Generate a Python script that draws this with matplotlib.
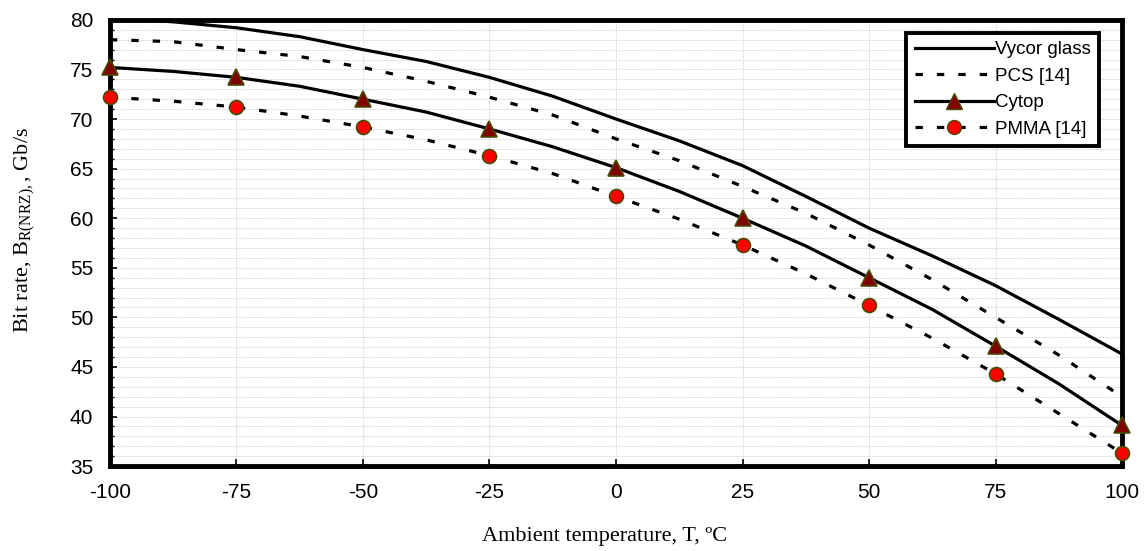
import matplotlib
matplotlib.use("Agg")
import matplotlib.pyplot as plt
from matplotlib.ticker import MultipleLocator

plt.rcParams['mathtext.fontset'] = 'custom'
plt.rcParams['mathtext.rm'] = 'Liberation Serif'

temp_line = [-100, -87.5, -75, -62.5, -50, -37.5, -25, -12.5, 0, 12.5, 25, 37.5, 50, 62.5, 75, 87.5, 100]
vycor = [80.2, 79.8, 79.2, 78.3, 77.0, 75.8, 74.2, 72.3, 70.0, 67.8, 65.3, 62.2, 59.0, 56.2, 53.2, 49.8, 46.3]
pcs = [78.0, 77.8, 77.0, 76.3, 75.2, 73.8, 72.2, 70.4, 68.0, 65.8, 63.2, 60.5, 57.3, 53.8, 50.0, 46.2, 42.0]
cytop_line = [75.2, 74.8, 74.2, 73.3, 72.0, 70.7, 69.0, 67.2, 65.1, 62.7, 60.0, 57.2, 54.0, 50.8, 47.1, 43.3, 39.1]
pmma_line = [72.2, 71.8, 71.2, 70.3, 69.2, 67.9, 66.3, 64.5, 62.2, 59.9, 57.3, 54.4, 51.2, 47.9, 44.3, 40.3, 36.3]

temp_pts = [-100, -75, -50, -25, 0, 25, 50, 75, 100]
cytop_pts = [75.2, 74.2, 72.0, 69.0, 65.1, 60.0, 54.0, 47.1, 39.1]
pmma_pts = [72.2, 71.2, 69.2, 66.3, 62.2, 57.3, 51.2, 44.3, 36.3]

xticks = [-100, -75, -50, -25, 0, 25, 50, 75, 100]

fig = plt.figure(figsize=(11.45, 5.51), dpi=100)
ax = fig.add_axes([0.096, 0.154, 0.884, 0.81])

lw = 2.3
dash = (0, (2.3, 4.4))
edge = '#4a4a00'
ax.plot(temp_line, vycor, color='black', lw=lw, zorder=3)
ax.plot(temp_line, pcs, color='black', lw=lw, linestyle=dash, zorder=3)
ax.plot(temp_line, cytop_line, color='black', lw=lw, zorder=3)
ax.plot(temp_line, pmma_line, color='black', lw=lw, linestyle=dash, zorder=3)
ax.plot(temp_pts, cytop_pts, linestyle='none', marker='^', ms=11, mfc='#800000', mec=edge, mew=1.2, zorder=5, clip_on=False)
ax.plot(temp_pts, pmma_pts, linestyle='none', marker='o', ms=10, mfc='#ff0000', mec=edge, mew=1.2, zorder=5, clip_on=False)

# legend proxies
h1, = ax.plot([], [], color='black', lw=lw)
h2, = ax.plot([], [], color='black', lw=lw, linestyle=dash)
h3, = ax.plot([], [], color='black', lw=lw, marker='^', ms=11, mfc='#800000', mec=edge)
h4, = ax.plot([], [], color='black', lw=lw, linestyle=dash, marker='o', ms=10, mfc='#ff0000', mec=edge)
leg = ax.legend([h1, h2, h3, h4], ['Vycor glass', 'PCS [14]', 'Cytop', 'PMMA [14]'],
                loc='upper right', bbox_to_anchor=(0.977, 0.971), fancybox=False,
                framealpha=1, edgecolor='black', prop={'family': 'Liberation Sans', 'size': 13.5},
                handlelength=4.2, handletextpad=0.05, labelspacing=0.5, borderpad=0.45,
                borderaxespad=0.0)
leg.get_frame().set_linewidth(2.8)

ax.set_xlim(-100, 100)
ax.set_ylim(35, 80)
ax.set_xticks(xticks)
ax.set_xticklabels([str(t) for t in xticks])
ax.yaxis.set_major_locator(MultipleLocator(5))
ax.yaxis.set_minor_locator(MultipleLocator(1))
ax.grid(which='major', axis='x', color='#dadada', lw=0.7, ls='--', dashes=(2, 1))
ax.grid(which='both', axis='y', color='#dadada', lw=0.7, ls='--', dashes=(2, 1))
ax.set_axisbelow(True)

for s in ax.spines.values():
    s.set_linewidth(3.5)
ax.tick_params(axis='both', which='major', direction='in', length=5, width=1.2, labelsize=15, pad=12)
ax.tick_params(axis='y', which='minor', direction='in', length=3, width=1)
for lab in ax.get_xticklabels() + ax.get_yticklabels():
    lab.set_family('Liberation Sans')

ax.set_xlabel('Ambient temperature, T, ºC', family='Liberation Serif', fontsize=16)
ax.set_ylabel(r'Bit rate, B$_{\mathrm{R(NRZ),}}$, Gb/s', family='Liberation Serif', fontsize=16)
ax.xaxis.set_label_coords(0.489, -0.137)
ax.yaxis.set_label_coords(-0.071, 0.53)

fig.savefig('out.png', dpi=100)
